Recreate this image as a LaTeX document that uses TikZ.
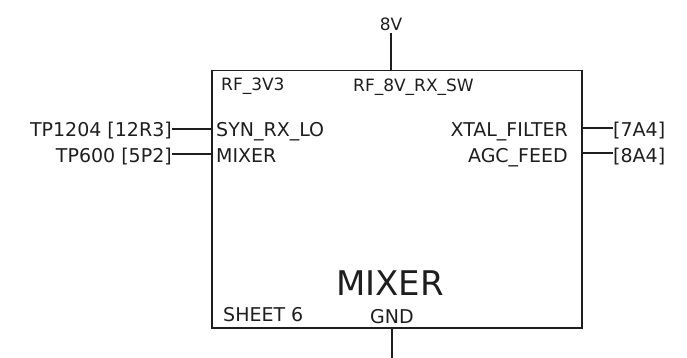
\documentclass[tikz,border=0pt]{standalone}
\usepackage{fontspec}
\setmainfont{DejaVu Sans}
\usepackage{tikz}
\usetikzlibrary{positioning}
\definecolor{InkGray}{RGB}{30, 30, 30}
\tikzset{
    pinlabel/.style={inner sep=0pt, text height=14pt, text depth=0pt, text=InkGray,
        font=\fontsize{19}{22}\selectfont},
    railLabel/.style={pinlabel, text height=12.5pt, font=\fontsize{17}{20}\selectfont},
    wire/.style={draw=InkGray, line width=1.5pt}
}

\begin{document}
\begin{tikzpicture}[x=1pt, y=-1pt]
    \useasboundingbox (0,0) rectangle (687,358);
    % sheet block
    \node[wire, rectangle, inner sep=0pt, minimum width=370pt, minimum height=257pt,
          anchor=north west] (sheet) at (211,70) {};
    \node[inner sep=0pt, text=InkGray, font=\fontsize{34}{38}\selectfont,
          text height=25pt, text depth=0pt] (title) at (390,283) {MIXER};

    % supply and ground
    \node[railLabel, anchor=south] (v8) at (391,31) {8V};
    \node[railLabel, anchor=west] (rf3v3) at (221,84) {RF\_3V3};
    \node[railLabel, anchor=west] (rf8v) at (353,85) {RF\_8V\_RX\_SW};
    \node[pinlabel, anchor=west] (sheetno) at (223,314) {SHEET 6};
    \node[pinlabel, anchor=center] (gnd) at (392,316) {GND};
    \coordinate (gndend) at (392,358);
    \draw[wire] (v8.south |- 0,33) -- (v8.south |- sheet.north);
    \draw[wire] (gnd.center |- sheet.south) -- (gndend);

    % left side pins
    \node[pinlabel, anchor=west] (synrx) at (216,129.5) {SYN\_RX\_LO};
    \node[pinlabel, anchor=west] (mixin) at (216,155.5) {MIXER};
    \node[pinlabel, anchor=east] (tp1204) at (172,129.5) {TP1204 [12R3]};
    \node[pinlabel, anchor=east] (tp600) at (172,155.5) {TP600 [5P2]};
    \draw[wire] (tp1204.east |- 0,129) -- (sheet.west |- 0,129);
    \draw[wire] (tp600.east |- 0,154) -- (sheet.west |- 0,154);

    % right side pins
    \node[pinlabel, anchor=east] (xtal) at (568,129.5) {XTAL\_FILTER};
    \node[pinlabel, anchor=east] (agc) at (568,155.5) {AGC\_FEED};
    \node[pinlabel, anchor=west] (ref7a4) at (613,129.5) {[7A4]};
    \node[pinlabel, anchor=west] (ref8a4) at (613,155.5) {[8A4]};
    \draw[wire] (sheet.east |- 0,128) -- (ref7a4.west |- 0,128);
    \draw[wire] (sheet.east |- 0,153) -- (ref8a4.west |- 0,153);
\end{tikzpicture}
\end{document}
